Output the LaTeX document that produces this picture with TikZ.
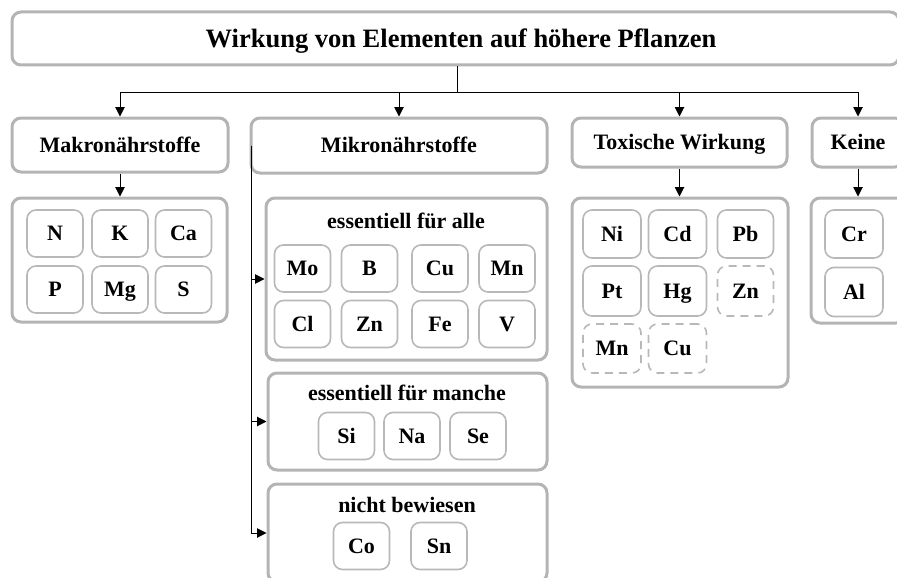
\documentclass[tikz,border=0pt]{standalone}
\usepackage{fontspec}
\setmainfont{Liberation Serif}
\usetikzlibrary{arrows.meta}
\definecolor{boxgray}{HTML}{B4B4B4}
\definecolor{ingray}{HTML}{B8B8B8}
\begin{document}
\begin{tikzpicture}[x=1pt,y=-1pt,
  every node/.style={font=\bfseries\fontsize{22}{26}\selectfont,inner sep=0pt,text height=14.5pt,text depth=0pt},
  obox/.style 2 args={draw=boxgray,line width=3pt,rounded corners=9pt,minimum width=#1,minimum height=#2},
  ebox/.style={draw=ingray,line width=1.6pt,rounded corners=9pt,minimum width=56pt,minimum height=47pt},
  dbox/.style={ebox,dash pattern=on 8pt off 6pt},
  lbl/.style={},
  conn/.style={line width=1pt},
  arr/.style={line width=1pt,-{Triangle[length=9.5pt,width=9.5pt]}}]
\useasboundingbox (0,0) rectangle (897,578);
\clip (0,0) rectangle (897,578);
% title
\node[obox={887pt}{53pt}] (title) at (455.5,38.5) {};
\node[font=\bfseries\fontsize{26.5}{30}\selectfont,text height=17.5pt] (titletext) at (461,38.5) {Wirkung von Elementen auf höhere Pflanzen};
% level 2
\node[obox={216pt}{54pt}] (makro) at (120,145) {Makronährstoffe};
\node[obox={296pt}{55pt}] (mikro) at (399,145.5) {Mikronährstoffe};
\node[obox={215pt}{49pt}] (tox) at (679.5,142.5) {Toxische Wirkung};
\node[obox={92pt}{49pt}] (keine) at (858,142.5) {Keine};
% level 3 containers
\node[obox={215pt}{124pt}] (makroC) at (119.5,260) {};
\node[obox={281pt}{162pt}] (alle) at (406.5,279) {};
\node[obox={279pt}{97pt}] (manche) at (407.5,421.5) {};
\node[obox={279pt}{98pt}] (nicht) at (407.5,533) {};
\node[obox={216pt}{189pt}] (toxC) at (680,292.5) {};
\node[obox={94pt}{125pt}] (keineC) at (858,260.5) {};
% group titles
\node[lbl] (alleT) at (406,221) {essentiell für alle};
\node[lbl] (mancheT) at (407,393) {essentiell für manche};
\node[lbl] (nichtT) at (407,505) {nicht bewiesen};
% Makro elements
\node[ebox] (N) at (55,233.5) {N};
\node[ebox] (K) at (120,233.5) {K};
\node[ebox] (Ca) at (183.5,233.5) {Ca};
\node[ebox] (P) at (55,289.5) {P};
\node[ebox] (Mg) at (120,289.5) {Mg};
\node[ebox] (S) at (183.5,289.5) {S};
% essentiell fuer alle
\node[ebox] (Mo) at (302.5,268.5) {Mo};
\node[ebox] (B) at (369.5,268.5) {B};
\node[ebox] (Cu1) at (440,268.5) {Cu};
\node[ebox] (Mn1) at (507,268.5) {Mn};
\node[ebox] (Cl) at (302.5,324) {Cl};
\node[ebox] (Zn1) at (369.5,324) {Zn};
\node[ebox] (Fe) at (440,324) {Fe};
\node[ebox] (V) at (507,324) {V};
% essentiell fuer manche
\node[ebox] (Si) at (346.5,436) {Si};
\node[ebox] (Na) at (412,436) {Na};
\node[ebox] (Se) at (478,436) {Se};
% nicht bewiesen
\node[ebox] (Co) at (361.5,546) {Co};
\node[ebox] (Sn) at (439,546) {Sn};
% toxic
\node[ebox,minimum width=58pt,minimum height=48pt] (Ni) at (612,234) {Ni};
\node[ebox,minimum width=58pt,minimum height=48pt] (Cd) at (677.5,234) {Cd};
\node[ebox,minimum width=56pt,minimum height=48pt] (Pb) at (745.5,234) {Pb};
\node[ebox,minimum width=58pt,minimum height=50pt] (Pt) at (612,291) {Pt};
\node[ebox,minimum width=58pt,minimum height=50pt] (Hg) at (677.5,291) {Hg};
\node[dbox,minimum width=56pt,minimum height=50pt] (Zn2) at (745.5,291) {Zn};
\node[dbox,minimum width=58pt,minimum height=49pt] (Mn2) at (612,348.5) {Mn};
\node[dbox,minimum width=58pt,minimum height=49pt] (Cu2) at (677.5,348.5) {Cu};
% keine
\node[ebox,minimum width=58pt,minimum height=48pt] (Cr) at (854,234) {Cr};
\node[ebox,minimum width=58pt,minimum height=49pt] (Al) at (854,292) {Al};
% connectors
\coordinate (hub) at (457,92);
\draw[conn] (title.south -| hub) -- (hub);
\draw[arr] (hub) -| (makro.north);
\draw[arr] (hub) -| (mikro.north);
\draw[arr] (hub) -| (tox.north);
\draw[arr] (hub) -| (keine.north);
\draw[arr] (makro.south) -- (makro.south |- makroC.north);
\draw[arr] (tox.south) -- (tox.south |- toxC.north);
\draw[arr] (keine.south) -- (keine.south |- keineC.north);
\coordinate (mv) at ([xshift=2pt]mikro.west);
\draw[arr] (mv) |- (alle.west);
\draw[arr] (mv) |- (manche.west);
\draw[arr] (mv) |- (nicht.west);
\end{tikzpicture}
\end{document}
